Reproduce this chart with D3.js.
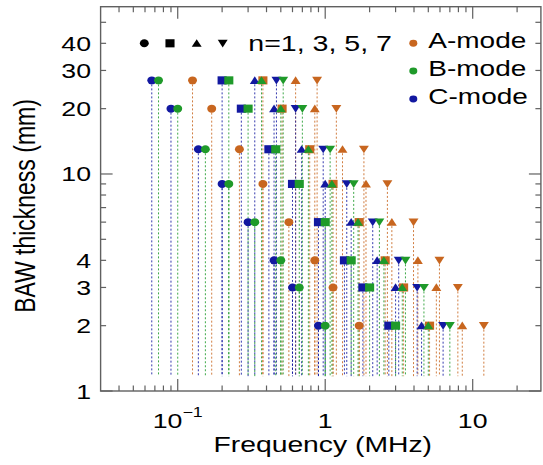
<!DOCTYPE html>
<html>
<head>
<meta charset="utf-8">
<script src="https://cdn.jsdelivr.net/npm/d3@7"></script>
<style>
html,body{margin:0;padding:0;background:#fff;}
svg{display:block;}
text{font-family:"Liberation Sans",Arial,Helvetica,sans-serif;fill:#000;}
</style>
</head>
<body>
<svg id="chart" width="543" height="465"></svg>
<script>
// ---- data ----
const thickness = [27, 20, 13, 9, 6, 4, 3, 2];           // mm
const harmonics = [1, 3, 5, 7];
const modes = ["A-mode", "B-mode", "C-mode"];
// frequency (MHz) per thickness row, per harmonic n=1,3,5,7
const freqA = [
  [0.126, 0.378, 0.630, 0.881],
  [0.170, 0.510, 0.850, 1.19],
  [0.262, 0.785, 1.31, 1.83],
  [0.378, 1.13, 1.89, 2.64],
  [0.567, 1.70, 2.83, 3.97],
  [0.850, 2.55, 4.25, 5.95],
  [1.13, 3.40, 5.67, 7.93],
  [1.70, 5.10, 8.50, 11.9]
];
const freqB = [
  [0.0741, 0.222, 0.370, 0.519],
  [0.100, 0.300, 0.500, 0.700],
  [0.154, 0.462, 0.769, 1.08],
  [0.222, 0.667, 1.11, 1.56],
  [0.333, 1.00, 1.67, 2.33],
  [0.500, 1.50, 2.50, 3.50],
  [0.667, 2.00, 3.33, 4.67],
  [1.00, 3.00, 5.00, 7.00]
];
const freqC = [
  [0.0667, 0.200, 0.333, 0.467],
  [0.090, 0.270, 0.450, 0.630],
  [0.138, 0.415, 0.692, 0.969],
  [0.200, 0.600, 1.00, 1.40],
  [0.300, 0.900, 1.50, 2.10],
  [0.450, 1.35, 2.25, 3.15],
  [0.600, 1.80, 3.00, 4.20],
  [0.900, 2.70, 4.50, 6.30]
];
const dropTo = 1.17; // dotted guide lines end here (mm)
const xMajorTicks = [0.1, 1, 10];
const xMinorTicks = [0.04,0.05,0.06,0.07,0.08,0.09,0.2,0.3,0.4,0.5,0.6,0.7,0.8,0.9,2,3,4,5,6,7,8,9,20];
const yLabelTicks = [1, 2, 3, 4, 10, 20, 30, 40];
const yLongTicks = [1, 10];
const yMinorTicks = [2,3,4,5,6,7,8,9,20,30,40,50];
const legendHarmonicText = "n=1, 3, 5, 7";

// ---- layout ----
const SX = 1.27; // horizontal text stretch of the reference
const svg = d3.select("#chart");
const x = d3.scaleLog().domain([0.03, 29]).range([100.6, 540.9]);
const y = d3.scaleLog().domain([1, 59]).range([391, 6.7]);
const colors = {"A-mode":"#c8661f","B-mode":"#1f9a2a","C-mode":"#1218a0"};
const frameColor = "#606060";

const shapes = [d3.symbolCircle, d3.symbolSquare, d3.symbolTriangle, d3.symbolTriangle];
const sizes = [50, 66, 34, 34];
const rots = [0, 0, 0, 180];
function markerPath(i){ return d3.symbol().type(shapes[i]).size(sizes[i])(); }
function markerTransform(px, py, i){
  const dy = i===2 ? 1 : (i===3 ? -1 : 0);
  return `translate(${px},${py+dy}) scale(1.12,1) rotate(${rots[i]})`;
}

// build records
const series = [
  {mode:"A-mode", f:freqA},
  {mode:"C-mode", f:freqC},
  {mode:"B-mode", f:freqB}
];
const pts = [];
series.forEach(s=>{
  thickness.forEach((d,r)=>{
    harmonics.forEach((n,k)=>{
      pts.push({mode:s.mode, d:d, n:n, k:k, f:s.f[r][k]});
    });
  });
});

// dotted lines
svg.append("g").selectAll("line").data(pts).join("line")
  .attr("x1", p=>x(p.f)).attr("x2", p=>x(p.f))
  .attr("y1", p=>y(p.d)).attr("y2", y(dropTo))
  .attr("stroke", p=>colors[p.mode])
  .attr("stroke-width", 1)
  .attr("stroke-opacity", 0.85)
  .attr("stroke-dasharray", "2,2");

// markers
svg.append("g").selectAll("path").data(pts).join("path")
  .attr("d", p=>markerPath(p.k))
  .attr("transform", p=>markerTransform(x(p.f), y(p.d), p.k))
  .attr("fill", p=>colors[p.mode]);

// frame
const [x0, x1] = x.range(), [y0, y1] = y.range();
svg.append("rect").attr("x", x0).attr("y", y1).attr("width", x1-x0).attr("height", y0-y1)
  .attr("fill","none").attr("stroke", frameColor).attr("stroke-width", 1.4);

// ticks
const tg = svg.append("g").attr("stroke", frameColor).attr("stroke-width", 1.2);
function xt(v, len){
  tg.append("line").attr("x1",x(v)).attr("x2",x(v)).attr("y1",y0).attr("y2",y0-len);
  tg.append("line").attr("x1",x(v)).attr("x2",x(v)).attr("y1",y1).attr("y2",y1+len);
}
xMajorTicks.forEach(v=>xt(v,12));
xMinorTicks.forEach(v=>xt(v,5.5));
function yt(v, len){
  tg.append("line").attr("y1",y(v)).attr("y2",y(v)).attr("x1",x0).attr("x2",x0+len);
  tg.append("line").attr("y1",y(v)).attr("y2",y(v)).attr("x1",x1).attr("x2",x1-len);
}
yLongTicks.forEach(v=>yt(v,12));
yMinorTicks.forEach(v=>yt(v,5.5));

// x tick labels
xMajorTicks.forEach(v=>{
  const t = svg.append("text")
    .attr("transform", `translate(${x(v)},428.3) scale(${SX},1)`)
    .attr("text-anchor","middle").attr("font-size",21);
  if (v < 1) {
    t.append("tspan").text("10");
    t.append("tspan").attr("dy",-11).attr("font-size",14).text("\u22121");
  } else {
    t.text(d3.format("d")(v));
  }
});
// y tick labels
yLabelTicks.forEach(v=>{
  svg.append("text")
    .attr("transform", `translate(91,${y(v)+7.5}) scale(${SX},1)`)
    .attr("text-anchor","end").attr("font-size",21)
    .text(v);
});

// axis titles
svg.append("text")
  .attr("transform", `translate(${(x0+x1)/2+2},452) scale(${SX},1)`)
  .attr("text-anchor","middle").attr("font-size",22.3)
  .text("Frequency (MHz)");
svg.append("text")
  .attr("transform", `translate(35,206) scale(${SX},1) rotate(-90)`)
  .attr("text-anchor","middle").attr("font-size",23)
  .text("BAW thickness (mm)");

// legend: harmonics
const legX = [144.3, 170, 196.7, 222.7];
harmonics.forEach((n,k)=>{
  svg.append("path").attr("d", markerPath(k))
    .attr("transform", markerTransform(legX[k], 43.3, k))
    .attr("fill","#000");
});
svg.append("text")
  .attr("transform", `translate(248.3,50.5) scale(${SX},1)`)
  .attr("font-size",22.5).text(legendHarmonicText);

// legend: modes
const legRows = [48.3, 76, 104];
modes.forEach((m,i)=>{
  svg.append("path").attr("d", d3.symbol().type(d3.symbolCircle).size(38)())
    .attr("transform", `translate(413.3,${legRows[i]-5}) scale(1.15,1)`)
    .attr("fill", colors[m]);
  svg.append("text")
    .attr("transform", `translate(428.3,${legRows[i]}) scale(${SX*0.98},1)`)
    .attr("font-size",22.5).text(m);
});
</script>
</body>
</html>
